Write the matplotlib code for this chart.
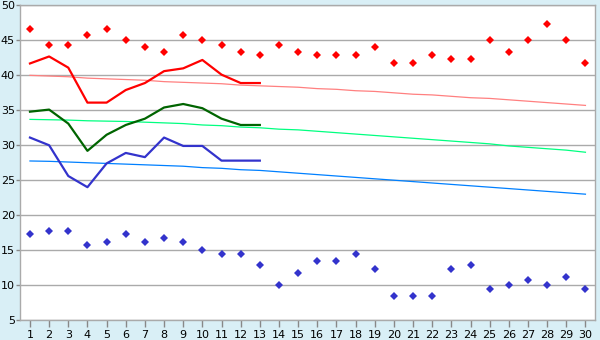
import numpy as np
import matplotlib
matplotlib.use("Agg")
import matplotlib.pyplot as plt

days = list(range(1, 31))

# measured highs / lows (points)
red_pts = [46.7, 44.4, 44.4, 45.8, 46.7, 45.0, 44.0, 43.4, 45.8, 45.0,
           44.4, 43.4, 42.9, 44.4, 43.4, 42.9, 42.9, 42.9, 44.0, 41.7,
           41.7, 42.9, 42.3, 42.3, 45.0, 43.4, 45.0, 47.3, 45.0, 41.7]
blue_pts = [17.3, 17.8, 17.8, 15.7, 16.1, 17.3, 16.1, 16.7, 16.1, 15.0,
            14.4, 14.4, 12.8, 10.0, 11.7, 13.4, 13.4, 14.4, 12.3, 8.4,
            8.4, 8.4, 12.3, 12.8, 9.4, 10.0, 10.7, 10.0, 11.1, 9.4]

# lines for the first 13 days
line_days = days[:13]
red_line = [41.7, 42.7, 41.1, 36.1, 36.1, 37.9, 38.9, 40.6, 41.0, 42.2, 40.1, 38.9, 38.9]
green_line = [34.8, 35.1, 33.1, 29.2, 31.5, 32.9, 33.8, 35.4, 35.9, 35.3, 33.8, 32.9, 32.9]
blue_line = [31.1, 30.0, 25.6, 24.0, 27.4, 28.9, 28.3, 31.1, 29.9, 29.9, 27.8, 27.8, 27.8]

# normals
red_norm = [40.0, 39.9, 39.8, 39.6, 39.5, 39.4, 39.3, 39.1, 39.0, 38.9,
            38.8, 38.6, 38.5, 38.4, 38.3, 38.1, 38.0, 37.8, 37.7, 37.5,
            37.3, 37.2, 37.0, 36.8, 36.7, 36.5, 36.3, 36.1, 35.9, 35.7]
green_norm = [33.7, 33.65, 33.6, 33.5, 33.45, 33.4, 33.3, 33.2, 33.1, 32.9,
              32.8, 32.6, 32.5, 32.3, 32.2, 32.0, 31.8, 31.6, 31.4, 31.2,
              31.0, 30.8, 30.6, 30.4, 30.2, 29.9, 29.7, 29.5, 29.3, 29.0]
blue_norm = [27.75, 27.7, 27.6, 27.5, 27.4, 27.3, 27.2, 27.1, 27.0, 26.8,
             26.7, 26.5, 26.4, 26.2, 26.0, 25.8, 25.6, 25.4, 25.2, 25.0,
             24.8, 24.6, 24.4, 24.2, 24.0, 23.8, 23.6, 23.4, 23.2, 23.0]

yticks = list(range(5, 51, 5))

fig = plt.figure(figsize=(6, 3.4), dpi=100, facecolor='#d9eff6')
ax = fig.add_axes([0.034, 0.0588, 0.9577, 0.9252])
ax.set_facecolor('white')

# grid
for v in yticks:
    ax.axhline(v, color='#aaaaaa', lw=1.0, zorder=1)

# normals
ax.plot(days, red_norm, color='#ff8080', lw=0.9, zorder=2)
ax.plot(days, green_norm, color='#00ff80', lw=0.9, zorder=2)
ax.plot(days, blue_norm, color='#0080ff', lw=0.9, zorder=2)

# lines
ax.plot(line_days, red_line, color='#ff0000', lw=1.6, zorder=3)
ax.plot(line_days, green_line, color='#006400', lw=1.6, zorder=3)
ax.plot(line_days, blue_line, color='#3333cc', lw=1.6, zorder=3)

# points
ax.plot(days, red_pts, ls='none', marker='D', ms=3.8, color='#ff0000',
        markeredgewidth=0, zorder=4)
ax.plot(days, blue_pts, ls='none', marker='D', ms=3.8, color='#3333cc',
        markeredgewidth=0, zorder=4)

ax.set_xlim(0.5, 30.5)
ax.set_ylim(5, 50)
ax.set_xticks(days)
ax.set_xticklabels([str(d) for d in days])
ax.set_yticks(yticks)

for s in ax.spines.values():
    s.set_color('#aaaaaa')
    s.set_linewidth(1.0)

ax.tick_params(axis='y', length=3, width=1, color='#888888', pad=1,
               labelsize=8, labelcolor='black')
ax.tick_params(axis='x', length=5, width=1, color='#888888', pad=2,
               labelsize=8, labelcolor='black')

fig.savefig('out.png', dpi=100, facecolor=fig.get_facecolor())
